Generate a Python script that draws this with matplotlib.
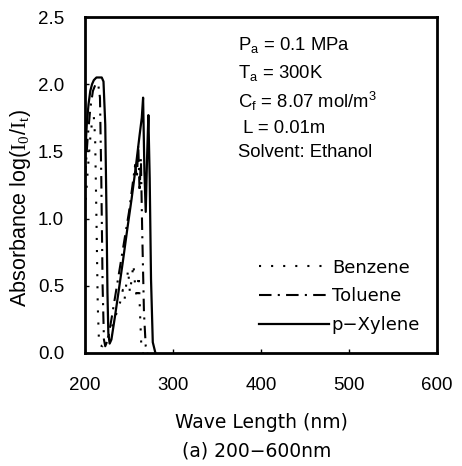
import numpy as np
import matplotlib
matplotlib.use('Agg')
import matplotlib.pyplot as plt

plt.rcParams['font.family'] = ['Liberation Sans', 'DejaVu Sans']
plt.rcParams['mathtext.fontset'] = 'custom'
plt.rcParams['mathtext.rm'] = 'Liberation Sans'
plt.rcParams['mathtext.it'] = 'Liberation Sans'
plt.rcParams['mathtext.sf'] = 'Liberation Serif'

# absorbance spectra
benzene_nm = [200, 203, 206, 208, 210, 211.5, 213, 214.5, 216, 220, 225, 230, 235, 240,
              243, 245, 247, 249, 251, 253, 255, 257, 259, 261, 262.5, 264, 266]
benzene_abs = [1.05, 1.35, 1.6, 1.72, 1.76, 1.6, 1.0, 0.35, 0.06, 0.05, 0.1, 0.18, 0.28, 0.38,
               0.47, 0.4, 0.52, 0.62, 0.45, 0.55, 0.66, 0.5, 0.4, 0.58, 0.3, 0.05, 0.0]

toluene_nm = [200, 203, 206, 209, 212, 215, 217, 218.5, 220, 221.5, 223, 226, 230, 235, 240,
              245, 250, 254, 257, 259, 260.5, 262, 263.5, 265, 267, 269, 271]
toluene_abs = [1.3, 1.6, 1.82, 1.95, 2.0, 2.0, 1.9, 1.3, 0.5, 0.1, 0.05, 0.1, 0.25, 0.45, 0.65,
               0.85, 1.05, 1.25, 1.4, 1.3, 1.55, 1.2, 1.45, 0.9, 0.3, 0.05, 0.0]

xylene_nm = [200, 202, 204, 206, 208, 210, 213, 216, 219, 221, 223, 224.5, 225.5, 226.5, 228,
             230, 234, 238, 243, 248, 253, 258, 262, 264.5, 266, 267.5, 269, 270.5, 272,
             273.5, 275, 277, 280]
xylene_abs = [1.45, 1.7, 1.85, 1.95, 2.0, 2.03, 2.05, 2.05, 2.05, 2.02, 1.7, 1.0, 0.45, 0.15, 0.07,
              0.1, 0.27, 0.45, 0.68, 0.92, 1.15, 1.4, 1.62, 1.75, 1.9, 1.35, 1.05, 1.45, 1.77,
              1.3, 0.55, 0.08, 0.0]

conditions = [r'P$_\mathregular{a}$ = 0.1 MPa',
              r'T$_\mathregular{a}$ = 300K',
              r'C$_\mathregular{f}$ = 8.07 mol/m$^\mathregular{3}$',
              r' L = 0.01m',
              'Solvent: Ethanol']
cond_y = [2.29, 2.08, 1.87, 1.67, 1.49]

fig = plt.figure(figsize=(4.62, 4.66), dpi=100)
ax = fig.add_axes([0.184, 0.2425, 0.762, 0.721])

ax.plot(benzene_nm, benzene_abs, color='black', lw=1.5, linestyle=(0, (1, 4.8)), label='Benzene')
ax.plot(toluene_nm, toluene_abs, color='black', lw=1.5, linestyle=(0, (6, 3, 1, 3)), label='Toluene')
ax.plot(xylene_nm, xylene_abs, color='black', lw=1.6, linestyle='-', label='p\u2212Xylene')

for t, y in zip(conditions, cond_y):
  ax.text(374, y, t, fontsize=13.3, va='center', ha='left')

ax.set_xlim(200, 600)
ax.set_ylim(0, 2.5)
ax.set_xticks([200, 300, 400, 500, 600])
ax.set_yticks([0.0, 0.5, 1.0, 1.5, 2.0, 2.5])
ax.set_yticklabels(['0.0', '0.5', '1.0', '1.5', '2.0', '2.5'])
ax.tick_params(direction='in', length=3, width=1, labelsize=13.5)
ax.tick_params(axis='x', pad=17)
ax.tick_params(axis='y', pad=15)
for s in ax.spines.values():
  s.set_linewidth(2)

ax.set_xlabel('Wave Length (nm)', fontsize=13.5, family='DejaVu Sans', labelpad=14)
ax.set_ylabel(r'Absorbance log($\mathsf{I}_\mathsf{0}$/$\mathsf{I}_\mathsf{t}$)', fontsize=15.5)
ax.yaxis.set_label_coords(-0.148, 0.43)
fig.text(0.555, 0.02, '(a) 200\u2212600nm', fontsize=13.5, family='DejaVu Sans', ha='center')

ax.legend(loc='lower right', bbox_to_anchor=(0.952, 0.056), frameon=False,
          prop={'family': 'DejaVu Sans', 'size': 13},
          handlelength=3.9, handletextpad=0.15, labelspacing=0.6, borderaxespad=0, borderpad=0)

fig.savefig('out.png', dpi=100)
